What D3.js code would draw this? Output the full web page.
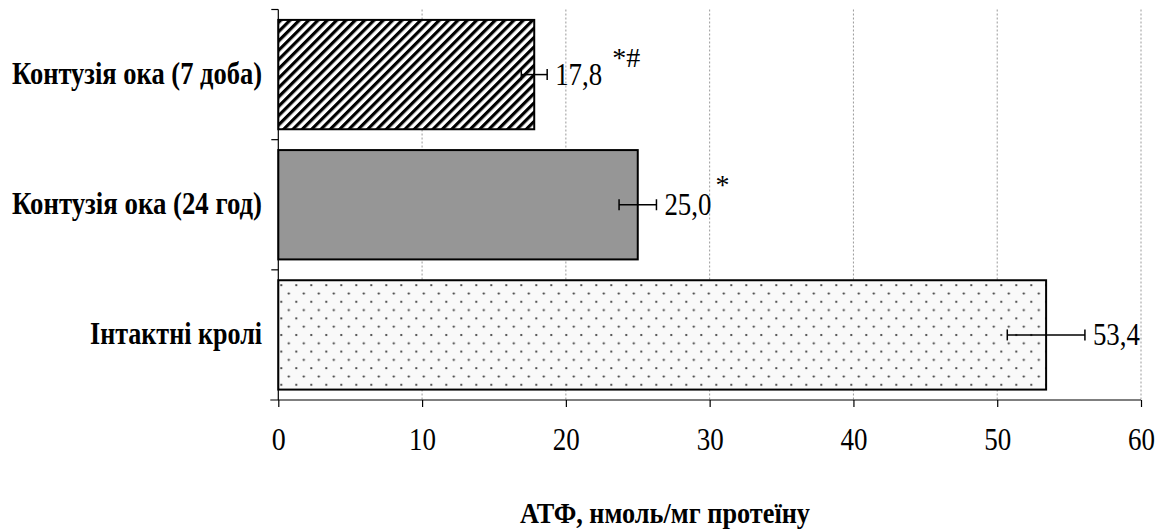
<!DOCTYPE html>
<html>
<head>
<meta charset="utf-8">
<script src="https://cdn.jsdelivr.net/npm/d3@7"></script>
<style>
  html, body { margin: 0; padding: 0; background: #fff; }
  svg { display: block; }
  svg text { font-family: "Liberation Serif", "DejaVu Serif", serif !important; fill: #000; }
</style>
</head>
<body>
<svg id="chart" width="1169" height="530"></svg>
<script>
// ATP content by group (top to bottom)
const categories = ["Контузія ока (7 доба)", "Контузія ока (24 год)", "Інтактні кролі"];
const values = [17.8, 25.0, 53.4];
const errors = [0.9, 1.3, 2.7];
const valueLabels = ["17,8", "25,0", "53,4"];
const marks = ["*#", "*", ""];
const fills = ["url(#hatch)", "#969696", "url(#dots)"];
const xTicks = [0, 10, 20, 30, 40, 50, 60];
const xTitle = "АТФ, нмоль/мг протеїну";

const svg = d3.select("#chart");
const plot = { left: 278.3, right: 1141, top: 9.5, bottom: 400 };

const x = d3.scaleLinear().domain([0, 60]).range([plot.left, plot.right]);
const y = d3.scaleBand().domain(categories).range([plot.top, plot.bottom])
  .paddingInner(0.16).paddingOuter(0.08);

// fill patterns
const defs = svg.append("defs");
const hatch = defs.append("pattern").attr("id", "hatch")
  .attr("patternUnits", "userSpaceOnUse").attr("width", 6.6).attr("height", 6.6)
  .attr("patternTransform", "rotate(45)");
hatch.append("rect").attr("width", 6.6).attr("height", 6.6).attr("fill", "#fff");
hatch.append("rect").attr("width", 3.2).attr("height", 6.6).attr("fill", "#000");

const dots = defs.append("pattern").attr("id", "dots")
  .attr("patternUnits", "userSpaceOnUse").attr("width", 15).attr("height", 16.6)
  .attr("x", plot.left).attr("y", 0);
dots.append("rect").attr("width", 15).attr("height", 16.6).attr("fill", "#f9f9f9");
dots.append("circle").attr("cx", 3).attr("cy", 3).attr("r", 1.1).attr("fill", "#333");
dots.append("circle").attr("cx", 10.5).attr("cy", 11.3).attr("r", 1.1).attr("fill", "#333");

// vertical dashed gridlines
svg.append("g").selectAll("line").data(xTicks.filter(d => d > 0)).join("line")
  .attr("x1", d => x(d)).attr("x2", d => x(d))
  .attr("y1", plot.top).attr("y2", plot.bottom)
  .attr("stroke", "#9a9a9a").attr("stroke-width", 1).attr("stroke-dasharray", "2,2");

// bars
svg.append("g").selectAll("rect").data(categories).join("rect")
  .attr("x", x(0)).attr("y", d => y(d))
  .attr("width", (d, i) => x(values[i]) - x(0))
  .attr("height", y.bandwidth())
  .attr("fill", (d, i) => fills[i])
  .attr("stroke", "#000").attr("stroke-width", 2);

// error bars
const eb = svg.append("g").attr("stroke", "#000").attr("stroke-width", 1.5);
categories.forEach((c, i) => {
  const cy = y(c) + y.bandwidth() / 2;
  const x0 = x(values[i] - errors[i]), x1 = x(values[i] + errors[i]);
  eb.append("line").attr("x1", x0).attr("x2", x1).attr("y1", cy).attr("y2", cy);
  eb.append("line").attr("x1", x0).attr("x2", x0).attr("y1", cy - 5.5).attr("y2", cy + 5.5);
  eb.append("line").attr("x1", x1).attr("x2", x1).attr("y1", cy - 5.5).attr("y2", cy + 5.5);
});

// value labels with significance marks
categories.forEach((c, i) => {
  const cy = y(c) + y.bandwidth() / 2;
  const lx = x(values[i] + errors[i]) + 8;
  svg.append("text")
    .attr("x", lx).attr("y", cy + 10)
    .attr("font-size", 31)
    .attr("textLength", 47).attr("lengthAdjust", "spacingAndGlyphs")
    .text(valueLabels[i]);
  if (marks[i]) {
    svg.append("text")
      .attr("x", lx + (i === 0 ? 57 : 51)).attr("y", cy + (i === 0 ? -8 : -11))
      .attr("font-size", 28)
      .text(marks[i]);
  }
});

// y axis: line with ticks at band boundaries
const yAxis = svg.append("g").attr("stroke", "#000").attr("stroke-width", 1.2);
yAxis.append("line").attr("x1", plot.left).attr("x2", plot.left)
  .attr("y1", plot.top).attr("y2", plot.bottom);
const bounds = [plot.top].concat(categories.slice(1).map(c => y(c) - y.step() * y.paddingInner() / 2));
yAxis.selectAll("line.tk").data(bounds).join("line").attr("class", "tk")
  .attr("x1", plot.left - 7).attr("x2", plot.left).attr("y1", d => d).attr("y2", d => d);

// category labels
svg.append("g").selectAll("text").data(categories).join("text")
  .attr("x", 262).attr("y", d => y(d) + y.bandwidth() / 2 + 9.5)
  .attr("text-anchor", "end").attr("font-weight", "bold").attr("font-size", 31)
  .attr("textLength", (d, i) => [250, 250, 172][i]).attr("lengthAdjust", "spacingAndGlyphs")
  .text(d => d);

// x axis
const xAxis = d3.axisBottom(x).tickValues(xTicks).tickSize(7).tickFormat(d3.format("d"));
const gx = svg.append("g").attr("transform", `translate(0,${plot.bottom})`).call(xAxis);
gx.select(".domain").remove();
gx.append("line").attr("x1", plot.left - 8).attr("x2", plot.right)
  .attr("stroke", "#000").attr("stroke-width", 1.2);
gx.selectAll(".tick line").attr("stroke", "#000").attr("stroke-width", 1.2);
gx.selectAll(".tick text").attr("font-size", 31).attr("y", 50).attr("dy", 0)
  .attr("textLength", d => d === 0 ? 14 : 27).attr("lengthAdjust", "spacingAndGlyphs")
  .attr("fill", "#000");

// x axis title
svg.append("text").attr("x", 665).attr("y", 523).attr("text-anchor", "middle")
  .attr("font-weight", "bold").attr("font-size", 29)
  .attr("textLength", 290).attr("lengthAdjust", "spacingAndGlyphs")
  .text(xTitle);
</script>
</body>
</html>
